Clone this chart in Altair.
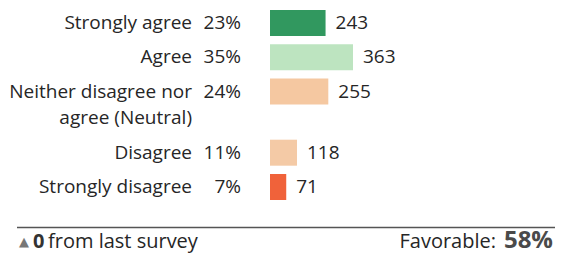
import altair as alt
import pandas as pd

categories = ["Strongly agree", "Agree", "Neither disagree nor\nagree (Neutral)", "Disagree", "Strongly disagree"]
percents = ["23%", "35%", "24%", "11%", "7%"]
counts = [243, 363, 255, 118, 71]
colors = ["#31985f", "#bde4c0", "#f5c8a1", "#f4caa6", "#f0623a"]
change_value = "0"
change_text = "from last survey"
favorable_label = "Favorable:"
favorable_value = "58%"

# row position: one step per row, plus extra room for wrapped labels
pos = []
p = 0.0
for c in categories:
    pos.append(p)
    p += 1 + 0.78 * (c.count("\n"))

df = pd.DataFrame({"cat": categories, "pct": percents, "n": counts, "pos": pos})

FONT = "Open Sans"
FS = 19
TXT = "#262626"

xs = alt.Scale(domain=[0, 363], range=[262, 345])
ys = alt.Scale(domain=[0, pos[-1]], range=[10, 184])

base = alt.Chart(df)

bars = base.mark_bar(orient="horizontal", size=26).encode(
    x=alt.X("n:Q", scale=xs, axis=None),
    y=alt.Y("pos:Q", scale=ys, axis=None),
    color=alt.Color("cat:N", scale=alt.Scale(domain=categories, range=colors), legend=None),
)

labels = base.mark_text(align="right", baseline="line-top", dy=-13, lineHeight=26,
                        lineBreak="\n", font=FONT, fontSize=FS, color=TXT).encode(
    x=alt.value(184), y=alt.Y("pos:Q", scale=ys), text="cat:N")

pcts = base.mark_text(align="right", baseline="middle", font=FONT, fontSize=FS, color=TXT).encode(
    x=alt.value(233), y=alt.Y("pos:Q", scale=ys), text="pct:N")

nums = base.mark_text(align="left", baseline="middle", dx=10, font=FONT, fontSize=FS, color=TXT).encode(
    x=alt.X("n:Q", scale=xs), y=alt.Y("pos:Q", scale=ys), text="n:Q")

rule = alt.Chart(pd.DataFrame({"a": [0]})).mark_rule(color="#555555", strokeWidth=1.5).encode(
    x=alt.value(9), x2=alt.value(547), y=alt.value(219.5))

foot = pd.DataFrame({"v": [change_value], "t": [change_text], "fl": [favorable_label], "fv": [favorable_value]})
fb = alt.Chart(foot)
FY = 239.5
tri = fb.mark_text(text="▲", fontSize=13, color="#777777", align="left", baseline="alphabetic",
                   font="DejaVu Sans").encode(x=alt.value(11), y=alt.value(FY - 1.5))
zero = fb.mark_text(font=FONT, fontSize=20, fontWeight="bold", color="#333333", align="left",
                    baseline="alphabetic").encode(x=alt.value(25), y=alt.value(FY), text="v:N")
ft = fb.mark_text(font=FONT, fontSize=20, color=TXT, align="left", baseline="alphabetic").encode(
    x=alt.value(40), y=alt.value(FY), text="t:N")
fl = fb.mark_text(font=FONT, fontSize=20, color=TXT, align="right", baseline="alphabetic").encode(
    x=alt.value(488), y=alt.value(FY), text="fl:N")
fv = fb.mark_text(font=FONT, fontSize=24, fontWeight="bold", color="#4a4a4a", align="right",
                  baseline="alphabetic").encode(x=alt.value(545), y=alt.value(FY), text="fv:N")

chart = alt.layer(bars, labels, pcts, nums, rule, tri, zero, ft, fl, fv).properties(
    width=547, height=246, padding=0, autosize=alt.AutoSizeParams(type="none")
).configure_view(stroke=None)

chart.save("out.html", embed_options={"renderer": "svg", "actions": False})
